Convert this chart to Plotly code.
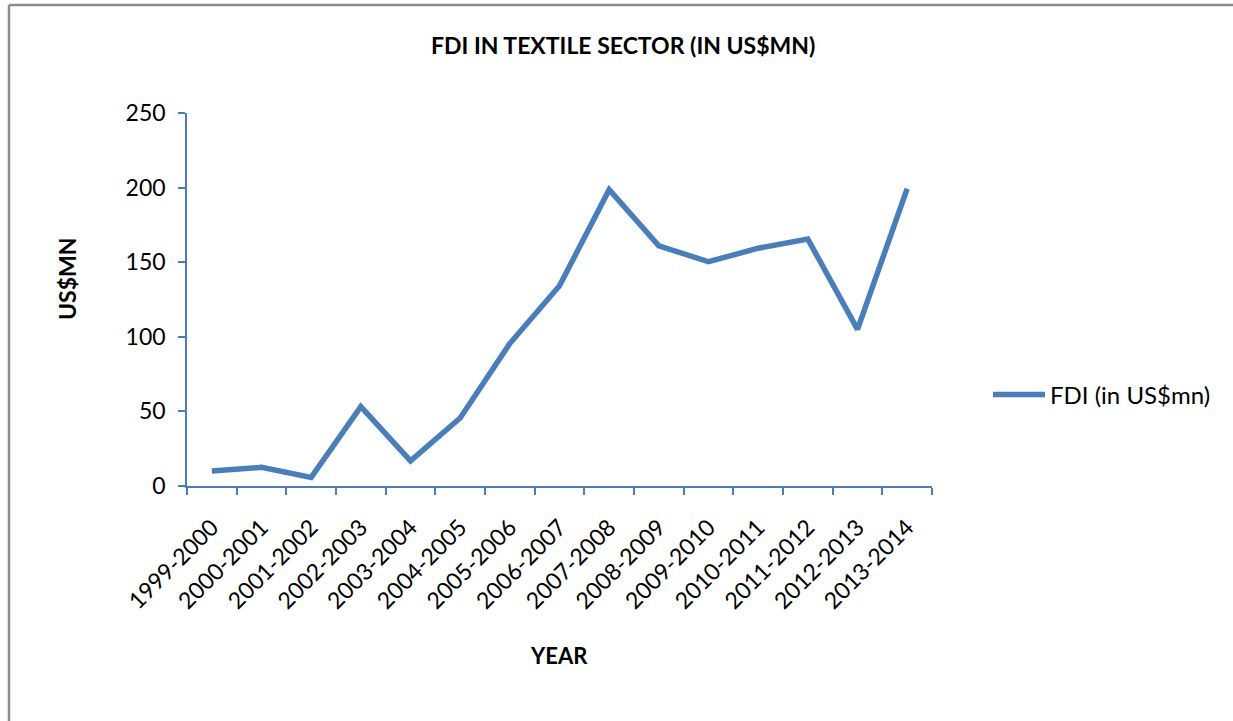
import plotly.graph_objects as go

years = ["1999-2000", "2000-2001", "2001-2002", "2002-2003", "2003-2004",
         "2004-2005", "2005-2006", "2006-2007", "2007-2008", "2008-2009",
         "2009-2010", "2010-2011", "2011-2012", "2012-2013", "2013-2014"]
fdi = [10, 12.5, 5.8, 53.2, 16.8, 45.6, 95.5, 134.2, 198.6, 161,
       150.3, 159.4, 165.5, 105, 199.2]
y_ticks = [0, 50, 100, 150, 200, 250]

AX = "#4A7EBB"
LINE = "#4A7EBB"
FONT = "Lato"

fig = go.Figure()
fig.add_trace(go.Scatter(
    x=years, y=fdi, mode="lines", name="FDI (in US$mn)",
    line=dict(color=LINE, width=5.5),
))

L, R, T, B = 187, 1233 - 932, 113, 721 - 486
W, H = 1233, 721
pw, ph = W - L - R, H - T - B

def px(x):
    return (x - L) / pw

def py(y):
    return (H - B - y) / ph

fig.update_layout(
    width=W, height=H,
    margin=dict(l=L, r=R, t=T, b=B),
    paper_bgcolor="white", plot_bgcolor="white",
    font=dict(family=FONT, size=23, color="black"),
    showlegend=True,
    legend=dict(x=px(988), y=py(395), xanchor="left", yanchor="middle",
                font=dict(family=FONT, size=24, color="black"),
                itemwidth=52, bgcolor="rgba(0,0,0,0)"),
    xaxis=dict(
        type="category", range=[-0.5, 14.5],
        showline=True, linecolor=AX, linewidth=1.5,
        ticks="outside", tickson="boundaries", ticklen=7, tickcolor=AX, tickwidth=1.5,
        tickangle=-45, showgrid=False, zeroline=False, ticklabelstandoff=17,
        tickfont=dict(family=FONT, size=23, color="black"),
    ),
    yaxis=dict(
        range=[0, 250], tickvals=y_ticks,
        showline=True, linecolor=AX, linewidth=1.5,
        ticks="outside", ticklen=7, tickcolor=AX, tickwidth=1.5,
        showgrid=False, zeroline=False, ticklabelstandoff=8,
        tickfont=dict(family=FONT, size=23, color="black"),
    ),
    annotations=[
        dict(text="<b>FDI IN TEXTILE SECTOR (IN US$MN)</b>", x=px(623), y=py(45),
             xref="paper", yref="paper", showarrow=False, xanchor="center", yanchor="middle",
             font=dict(family=FONT, size=23, color="black")),
        dict(text="<b>US$MN</b>", x=px(67), y=py(279), textangle=-90,
             xref="paper", yref="paper", showarrow=False, xanchor="center", yanchor="middle",
             font=dict(family=FONT, size=23, color="black")),
        dict(text="<b>YEAR</b>", x=px(559), y=py(655),
             xref="paper", yref="paper", showarrow=False, xanchor="center", yanchor="middle",
             font=dict(family=FONT, size=22, color="black")),
    ],
    shapes=[
        dict(type="line", xref="paper", yref="paper",
             x0=px(9), y0=py(5), x1=px(1240), y1=py(5),
             line=dict(color="#8C8C8C", width=2.5), layer="below"),
        dict(type="line", xref="paper", yref="paper",
             x0=px(9), y0=py(5), x1=px(9), y1=py(730),
             line=dict(color="#8C8C8C", width=2.5), layer="below"),
    ],
)

fig.write_html("out.html", config={"responsive": False})
